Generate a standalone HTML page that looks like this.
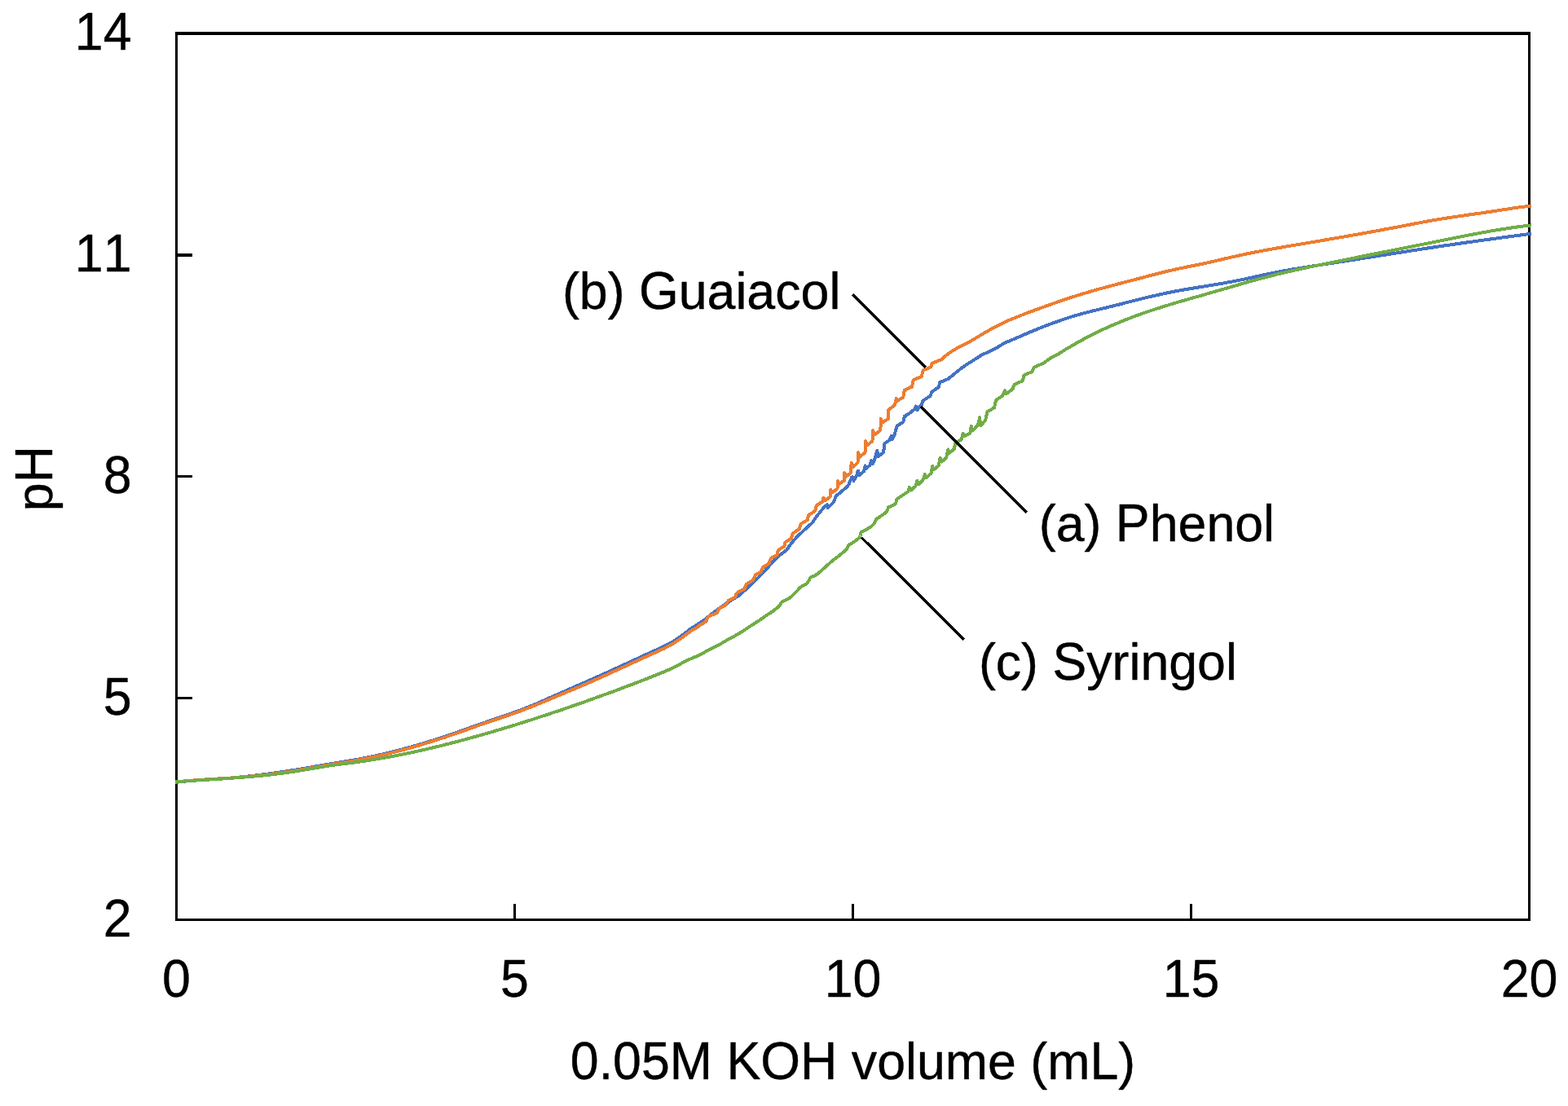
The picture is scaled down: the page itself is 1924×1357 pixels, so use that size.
<!DOCTYPE html>
<html lang="en"><head><meta charset="utf-8"><title>Titration curves</title>
<style>html,body{margin:0;padding:0;background:#fff;}body{width:1924px;height:1357px;overflow:hidden;}svg{display:block;}text{font-family:"Liberation Sans", Arial, Helvetica, sans-serif;font-size:62.7px;fill:#000;stroke:#000;stroke-width:0.4px;stroke-linejoin:round;font-kerning:none;white-space:pre;}</style></head><body>
<svg width="1924" height="1357" viewBox="0 0 1924 1357">
<rect x="0" y="0" width="1924" height="1357" fill="#fff"/>
<g fill="#000" shape-rendering="crispEdges">
<rect x="215" y="39" width="1663" height="4"/>
<rect x="215" y="1127" width="1663" height="3"/>
<rect x="215" y="39" width="3" height="1091"/>
<rect x="1875" y="39" width="3" height="1091"/>
<rect x="630" y="1109" width="3" height="19"/>
<rect x="1045" y="1109" width="3" height="19"/>
<rect x="1460" y="1109" width="3" height="19"/>
<rect x="217" y="311" width="19" height="4"/>
<rect x="217" y="583" width="19" height="3"/>
<rect x="217" y="855" width="19" height="3"/>
</g>
<polyline points="217.0,959.7 222.0,959.1 227.0,958.6 232.0,958.2 236.9,957.7 241.9,957.3 246.9,957.0 251.9,956.6 256.9,956.3 261.9,955.9 266.8,955.6 271.8,955.3 276.8,954.9 281.8,954.6 286.8,954.2 291.8,953.7 296.7,953.3 301.7,952.8 306.7,952.3 311.7,951.7 316.7,951.1 321.7,950.5 326.6,949.9 331.6,949.2 336.6,948.5 341.6,947.8 346.6,947.0 351.6,946.3 356.6,945.5 361.5,944.7 366.5,943.9 371.5,943.1 376.5,942.2 381.5,941.4 386.5,940.5 391.4,939.6 396.4,938.8 401.4,937.9 406.4,937.1 411.4,936.3 416.4,935.5 421.3,934.7 426.3,933.9 431.3,933.0 436.3,932.2 441.3,931.2 446.3,930.3 451.2,929.3 456.2,928.3 461.2,927.2 466.2,926.1 471.2,925.0 476.2,923.8 481.2,922.6 486.1,921.3 491.1,920.0 496.1,918.7 501.1,917.3 506.1,916.0 511.1,914.5 516.0,913.1 521.0,911.6 526.0,910.0 531.0,908.5 536.0,906.9 541.0,905.3 545.9,903.6 550.9,902.0 555.9,900.3 560.9,898.5 565.9,896.8 570.9,895.0 575.8,893.2 580.8,891.5 585.8,889.7 590.8,887.9 595.8,886.2 600.8,884.4 605.8,882.7 610.7,881.0 615.7,879.4 620.7,877.7 625.7,875.9 630.7,874.2 635.7,872.4 640.6,870.6 645.6,868.6 650.6,866.6 655.6,864.5 660.6,862.4 665.6,860.2 670.5,858.0 675.5,855.8 680.5,853.6 685.5,851.4 690.5,849.2 695.5,847.0 700.4,844.8 705.4,842.5 710.4,840.3 715.4,838.2 720.4,836.0 725.4,833.8 730.4,831.6 735.3,829.4 740.3,827.2 745.3,824.9 750.3,822.6 755.3,820.3 760.3,818.0 765.2,815.8 770.2,813.5 775.2,811.2 780.2,808.9 785.2,806.6 790.2,804.3 795.1,802.0 800.1,799.8 805.1,797.5 810.1,795.3 815.1,792.9 820.1,790.3 825.0,787.6 830.0,784.5 835.0,781.1 840.0,777.3 848.3,770.8 856.7,765.8 865.0,760.0 873.3,753.3 881.6,747.1 890.0,741.6 898.3,735.8 906.6,730.8 915.0,723.3 923.3,715.0 926.7,712.4 938.3,700.8 947.5,690.0 956.6,681.2 965.0,675.0 971.6,665.8 978.3,658.3 990.8,646.6 996.6,641.6 1001.6,634.1 1011.6,621.7 1015.0,619.3 1015.8,623.3 1022.4,616.7 1026.6,607.5 1027.5,607.4 1033.3,602.4 1039.1,597.5 1041.6,594.1 1045.0,585.8 1045.8,585.1 1047.5,590.0 1050.8,584.1 1052.9,577.6 1054.1,583.3 1060.0,578.3 1061.6,571.4 1062.9,575.0 1067.5,570.8 1069.1,565.1 1070.8,569.1 1073.3,563.3 1076.2,552.6 1077.9,560.0 1084.1,555.0 1085.4,544.1 1091.6,540.0 1093.7,534.7 1095.0,539.1 1097.5,533.3 1100.8,522.5 1108.3,517.9 1109.9,510.8 1116.6,506.7 1122.5,501.6 1123.9,498.5 1125.4,503.3 1127.5,500.0 1130.8,496.6 1132.5,491.6 1141.6,485.8 1143.1,481.2 1151.6,475.0 1153.3,469.1 1163.3,465.0 1168.4,460.9 1173.5,456.7 1178.6,452.6 1183.8,448.9 1188.9,445.4 1194.0,442.4 1199.1,439.1 1204.2,435.7 1209.3,433.4 1214.4,431.1 1219.5,428.6 1224.7,425.7 1229.8,422.6 1234.9,420.0 1240.0,417.6 1245.0,415.7 1250.0,413.5 1255.0,411.3 1260.1,409.1 1265.1,407.0 1270.1,405.0 1275.1,402.9 1280.1,400.9 1285.1,399.0 1290.2,397.1 1295.2,395.3 1300.2,393.5 1305.2,391.8 1310.2,390.1 1315.2,388.5 1320.3,387.0 1325.3,385.6 1330.3,384.2 1335.3,382.9 1340.3,381.6 1345.3,380.4 1350.3,379.2 1355.4,378.0 1360.4,376.7 1365.4,375.5 1370.4,374.2 1375.4,373.0 1380.4,371.7 1385.5,370.4 1390.5,369.1 1395.5,367.9 1400.5,366.6 1405.5,365.4 1410.5,364.2 1415.6,363.0 1420.6,361.9 1425.6,360.8 1430.6,359.7 1435.6,358.7 1440.6,357.7 1445.6,356.7 1450.7,355.8 1455.7,355.0 1460.7,354.1 1465.7,353.3 1470.7,352.5 1475.7,351.7 1480.8,350.9 1485.8,350.1 1490.8,349.2 1495.8,348.4 1500.8,347.5 1505.8,346.6 1510.9,345.7 1515.9,344.7 1520.9,343.7 1525.9,342.7 1530.9,341.6 1535.9,340.5 1540.9,339.4 1546.0,338.3 1551.0,337.2 1556.0,336.2 1561.0,335.1 1566.0,334.1 1571.0,333.2 1576.1,332.2 1581.1,331.3 1586.1,330.4 1591.1,329.6 1596.1,328.8 1601.1,327.9 1606.1,327.2 1611.2,326.4 1616.2,325.6 1621.2,324.8 1626.2,324.1 1631.2,323.3 1636.2,322.6 1641.3,321.8 1646.3,321.0 1651.3,320.2 1656.3,319.5 1661.3,318.7 1666.3,317.9 1671.4,317.1 1676.4,316.3 1681.4,315.5 1686.4,314.7 1691.4,313.9 1696.4,313.2 1701.4,312.4 1706.5,311.6 1711.5,310.8 1716.5,310.0 1721.5,309.2 1726.5,308.4 1731.5,307.6 1736.6,306.8 1741.6,306.1 1746.6,305.3 1751.6,304.5 1756.6,303.8 1761.6,303.0 1766.7,302.3 1771.7,301.5 1776.7,300.8 1781.7,300.1 1786.7,299.3 1791.7,298.6 1796.7,297.9 1801.8,297.2 1806.8,296.5 1811.8,295.8 1816.8,295.1 1821.8,294.4 1826.8,293.7 1831.9,293.1 1836.9,292.4 1841.9,291.7 1846.9,291.0 1851.9,290.3 1856.9,289.7 1862.0,289.0 1867.0,288.3 1872.0,287.6 1877.0,286.9" fill="none" stroke="#4472C4" stroke-width="4.0" stroke-linejoin="round" stroke-linecap="square" shape-rendering="crispEdges"/>
<polyline points="217.0,959.4 222.0,958.9 227.0,958.4 232.0,957.9 236.9,957.5 241.9,957.1 246.9,956.8 251.9,956.4 256.9,956.1 261.9,955.8 266.8,955.5 271.8,955.2 276.8,954.9 281.8,954.6 286.8,954.2 291.8,953.8 296.7,953.4 301.7,953.0 306.7,952.5 311.7,952.1 316.7,951.5 321.7,951.0 326.6,950.4 331.6,949.9 336.6,949.2 341.6,948.6 346.6,947.9 351.6,947.2 356.6,946.4 361.5,945.6 366.5,944.8 371.5,944.0 376.5,943.1 381.5,942.3 386.5,941.4 391.4,940.5 396.4,939.7 401.4,938.8 406.4,938.0 411.4,937.2 416.4,936.4 421.3,935.6 426.3,934.8 431.3,933.9 436.3,933.1 441.3,932.1 446.3,931.2 451.2,930.2 456.2,929.2 461.2,928.1 466.2,927.0 471.2,925.9 476.2,924.7 481.2,923.5 486.1,922.2 491.1,920.9 496.1,919.6 501.1,918.2 506.1,916.9 511.1,915.4 516.0,914.0 521.0,912.5 526.0,910.9 531.0,909.4 536.0,907.8 541.0,906.2 545.9,904.6 550.9,902.9 555.9,901.2 560.9,899.5 565.9,897.7 570.9,896.0 575.8,894.2 580.8,892.4 585.8,890.6 590.8,888.9 595.8,887.1 600.8,885.4 605.8,883.7 610.7,882.0 615.7,880.4 620.7,878.7 625.7,877.0 630.7,875.2 635.7,873.5 640.6,871.6 645.6,869.7 650.6,867.8 655.6,865.8 660.6,863.7 665.6,861.7 670.5,859.6 675.5,857.5 680.5,855.4 685.5,853.3 690.5,851.2 695.5,849.1 700.4,847.1 705.4,845.0 710.4,842.9 715.4,840.7 720.4,838.6 725.4,836.4 730.4,834.2 735.3,832.0 740.3,829.8 745.3,827.5 750.3,825.2 755.3,822.9 760.3,820.6 765.2,818.4 770.2,816.1 775.2,813.8 780.2,811.5 785.2,809.2 790.2,806.9 795.1,804.6 800.1,802.4 805.1,800.1 810.1,797.9 815.1,795.5 820.1,792.9 825.0,790.2 830.0,787.1 835.0,783.7 840.0,779.9 848.3,773.7 855.0,770.0 859.2,766.6 866.7,762.5 867.9,758.3 869.6,756.2 880.0,752.1 881.2,748.3 883.3,746.2 890.8,742.5 892.1,739.1 894.1,736.6 902.1,732.9 903.7,728.3 905.8,726.2 913.3,722.9 915.0,717.9 916.6,716.2 924.1,711.7 926.0,707.4 926.8,705.4 933.5,702.0 935.6,697.5 936.4,695.8 943.5,691.6 945.2,686.6 946.0,685.0 953.5,680.8 954.7,675.8 955.6,674.5 962.2,670.4 963.5,665.8 964.3,664.6 971.0,660.8 972.2,655.8 973.5,654.1 981.0,648.7 982.2,644.1 983.1,642.5 991.0,637.9 991.8,632.9 992.6,631.7 1000.1,627.1 1001.4,621.7 1002.2,620.0 1009.3,615.4 1010.4,610.9 1012.6,613.9 1018.8,609.4 1019.2,600.9 1021.4,604.1 1027.5,599.6 1027.9,590.1 1030.0,593.6 1035.8,589.6 1036.2,580.1 1038.3,584.7 1044.2,579.9 1044.6,568.0 1046.7,572.8 1052.5,567.7 1052.9,555.3 1055.1,560.6 1061.6,555.0 1062.0,541.3 1064.2,546.3 1070.5,541.0 1070.9,528.1 1073.1,533.5 1080.4,527.8 1080.8,513.9 1083.0,518.2 1090.0,513.7 1090.4,502.6 1097.9,497.0 1099.8,488.7 1101.2,491.6 1108.3,487.5 1109.8,478.7 1119.1,474.5 1120.6,466.2 1130.8,462.1 1132.6,454.6 1142.1,450.4 1143.7,445.8 1155.0,441.2 1160.0,436.8 1165.0,433.0 1170.0,429.8 1175.0,426.9 1180.0,424.2 1185.0,421.7 1190.0,419.2 1195.0,416.3 1200.0,413.2 1205.0,410.2 1210.0,407.3 1215.0,404.5 1220.0,401.8 1225.0,399.2 1230.0,396.7 1235.0,394.3 1240.0,392.1 1245.0,390.1 1250.0,388.1 1255.0,386.1 1260.1,384.1 1265.1,382.3 1270.1,380.4 1275.1,378.6 1280.1,376.8 1285.1,375.0 1290.2,373.2 1295.2,371.4 1300.2,369.7 1305.2,368.0 1310.2,366.3 1315.2,364.7 1320.3,363.1 1325.3,361.5 1330.3,360.0 1335.3,358.5 1340.3,357.0 1345.3,355.6 1350.3,354.2 1355.4,352.8 1360.4,351.5 1365.4,350.2 1370.4,348.8 1375.4,347.5 1380.4,346.2 1385.5,344.9 1390.5,343.6 1395.5,342.3 1400.5,341.0 1405.5,339.7 1410.5,338.3 1415.6,337.0 1420.6,335.7 1425.6,334.5 1430.6,333.2 1435.6,332.0 1440.6,330.9 1445.6,329.8 1450.7,328.8 1455.7,327.7 1460.7,326.7 1465.7,325.7 1470.7,324.7 1475.7,323.7 1480.8,322.6 1485.8,321.5 1490.8,320.3 1495.8,319.1 1500.8,317.9 1505.8,316.8 1510.9,315.6 1515.9,314.5 1520.9,313.4 1525.9,312.3 1530.9,311.2 1535.9,310.2 1540.9,309.2 1546.0,308.3 1551.0,307.3 1556.0,306.4 1561.0,305.5 1566.0,304.6 1571.0,303.8 1576.1,302.9 1581.1,302.0 1586.1,301.2 1591.1,300.3 1596.1,299.5 1601.1,298.7 1606.1,297.8 1611.2,297.0 1616.2,296.1 1621.2,295.3 1626.2,294.4 1631.2,293.5 1636.2,292.7 1641.3,291.8 1646.3,290.9 1651.3,290.1 1656.3,289.2 1661.3,288.3 1666.3,287.4 1671.4,286.5 1676.4,285.6 1681.4,284.7 1686.4,283.8 1691.4,282.9 1696.4,281.9 1701.4,281.0 1706.5,280.1 1711.5,279.1 1716.5,278.2 1721.5,277.2 1726.5,276.2 1731.5,275.3 1736.6,274.3 1741.6,273.4 1746.6,272.4 1751.6,271.5 1756.6,270.6 1761.6,269.8 1766.7,268.9 1771.7,268.1 1776.7,267.3 1781.7,266.6 1786.7,265.8 1791.7,265.1 1796.7,264.4 1801.8,263.6 1806.8,262.9 1811.8,262.2 1816.8,261.5 1821.8,260.8 1826.8,260.0 1831.9,259.3 1836.9,258.5 1841.9,257.7 1846.9,256.9 1851.9,256.2 1856.9,255.4 1862.0,254.7 1867.0,254.0 1872.0,253.4 1877.0,252.8" fill="none" stroke="#ED7D31" stroke-width="4.0" stroke-linejoin="round" stroke-linecap="square" shape-rendering="crispEdges"/>
<polyline points="217.0,959.1 222.0,958.7 227.0,958.4 232.0,958.1 236.9,957.8 241.9,957.4 246.9,957.1 251.9,956.8 256.9,956.5 261.9,956.2 266.8,955.9 271.8,955.6 276.8,955.2 281.8,954.9 286.8,954.5 291.8,954.2 296.7,953.8 301.7,953.4 306.7,953.0 311.7,952.5 316.7,952.1 321.7,951.6 326.6,951.0 331.6,950.5 336.6,949.9 341.6,949.3 346.6,948.7 351.6,948.0 356.6,947.3 361.5,946.5 366.5,945.7 371.5,944.9 376.5,944.0 381.5,943.2 386.5,942.3 391.4,941.5 396.4,940.7 401.4,939.9 406.4,939.2 411.4,938.5 416.4,937.9 421.3,937.2 426.3,936.6 431.3,935.9 436.3,935.3 441.3,934.6 446.3,933.9 451.2,933.1 456.2,932.3 461.2,931.5 466.2,930.7 471.2,929.8 476.2,928.9 481.2,928.0 486.1,927.1 491.1,926.1 496.1,925.1 501.1,924.1 506.1,923.0 511.1,921.9 516.0,920.8 521.0,919.7 526.0,918.5 531.0,917.4 536.0,916.2 541.0,915.0 545.9,913.7 550.9,912.5 555.9,911.2 560.9,909.9 565.9,908.6 570.9,907.2 575.8,905.9 580.8,904.5 585.8,903.1 590.8,901.7 595.8,900.3 600.8,898.9 605.8,897.4 610.7,895.9 615.7,894.4 620.7,892.9 625.7,891.4 630.7,889.9 635.7,888.3 640.6,886.7 645.6,885.2 650.6,883.6 655.6,882.0 660.6,880.3 665.6,878.7 670.5,877.1 675.5,875.4 680.5,873.7 685.5,872.1 690.5,870.4 695.5,868.7 700.4,867.0 705.4,865.2 710.4,863.5 715.4,861.8 720.4,860.0 725.4,858.2 730.4,856.4 735.3,854.6 740.3,852.8 745.3,851.0 750.3,849.2 755.3,847.4 760.3,845.5 765.2,843.6 770.2,841.7 775.2,839.9 780.2,838.0 785.2,836.0 790.2,834.1 795.1,832.2 800.1,830.2 805.1,828.2 810.1,826.2 815.1,824.1 820.1,822.0 825.0,819.7 830.0,817.2 835.0,814.6 840.0,811.8 848.3,807.9 856.7,804.5 865.0,800.0 873.3,795.8 881.6,791.6 890.0,786.6 898.3,782.0 906.6,777.5 915.0,772.0 923.3,766.6 931.6,761.2 940.0,755.4 948.3,750.0 956.6,743.3 958.7,739.1 964.9,735.8 969.1,733.7 977.4,725.8 981.6,720.8 989.9,716.2 992.4,712.5 994.1,708.7 1000.0,706.2 1004.3,703.3 1012.6,695.8 1021.0,688.3 1029.3,682.0 1037.6,675.0 1039.7,672.5 1040.9,669.1 1047.6,665.0 1054.3,660.0 1055.5,657.5 1056.3,653.3 1062.6,650.0 1069.3,645.8 1072.6,642.5 1073.8,640.0 1074.7,637.5 1086.7,629.1 1088.7,626.6 1090.0,622.5 1098.7,618.3 1099.6,615.8 1100.4,612.5 1114.1,603.3 1115.8,598.0 1117.9,601.6 1123.3,596.6 1125.4,590.1 1127.1,594.1 1132.5,589.1 1135.0,581.8 1136.6,586.2 1142.5,580.8 1144.1,571.8 1145.8,576.2 1151.6,571.6 1153.7,561.8 1155.4,566.6 1161.2,561.7 1163.3,551.4 1165.0,555.8 1170.8,550.8 1172.4,543.3 1179.9,539.2 1181.6,531.8 1183.7,535.0 1190.4,531.6 1191.7,523.0 1193.7,528.3 1200.0,521.6 1202.1,512.2 1203.3,522.4 1209.1,515.8 1211.6,505.0 1220.0,500.4 1222.1,490.8 1230.0,485.8 1232.9,479.3 1234.6,483.3 1242.5,477.5 1244.5,472.1 1255.0,467.1 1256.2,460.8 1266.6,455.8 1268.7,450.8 1281.6,445.0 1286.6,440.9 1291.7,438.0 1296.8,435.6 1301.8,432.4 1306.8,429.1 1311.9,426.3 1317.0,423.3 1322.0,420.3 1327.0,417.6 1332.0,414.9 1337.0,412.3 1342.0,409.7 1347.0,407.3 1352.0,404.9 1357.0,402.6 1362.0,400.3 1367.0,398.2 1372.0,396.1 1377.0,394.0 1382.0,392.0 1387.0,390.1 1391.9,388.2 1396.9,386.4 1401.9,384.6 1406.9,382.9 1411.9,381.2 1416.9,379.6 1421.9,377.9 1426.9,376.4 1431.9,374.8 1436.9,373.3 1441.9,371.8 1446.9,370.3 1451.9,368.9 1456.9,367.5 1461.9,366.0 1466.9,364.6 1471.9,363.2 1476.9,361.8 1481.9,360.3 1486.9,358.9 1491.9,357.4 1496.9,356.0 1501.9,354.5 1506.9,353.1 1511.9,351.6 1516.9,350.2 1521.9,348.7 1526.9,347.3 1531.8,345.9 1536.8,344.5 1541.8,343.1 1546.8,341.8 1551.8,340.5 1556.8,339.2 1561.8,337.9 1566.8,336.6 1571.8,335.4 1576.8,334.3 1581.8,333.1 1586.8,332.0 1591.8,330.9 1596.8,329.8 1601.8,328.7 1606.8,327.6 1611.8,326.6 1616.8,325.6 1621.8,324.5 1626.8,323.5 1631.8,322.5 1636.8,321.5 1641.8,320.5 1646.8,319.5 1651.8,318.5 1656.8,317.5 1661.8,316.5 1666.7,315.5 1671.7,314.5 1676.7,313.5 1681.7,312.5 1686.7,311.5 1691.7,310.5 1696.7,309.5 1701.7,308.6 1706.7,307.6 1711.7,306.6 1716.7,305.6 1721.7,304.6 1726.7,303.6 1731.7,302.6 1736.7,301.6 1741.7,300.6 1746.7,299.6 1751.7,298.6 1756.7,297.6 1761.7,296.6 1766.7,295.6 1771.7,294.6 1776.7,293.6 1781.7,292.6 1786.7,291.6 1791.7,290.6 1796.7,289.6 1801.7,288.6 1806.6,287.7 1811.6,286.7 1816.6,285.8 1821.6,284.9 1826.6,284.0 1831.6,283.1 1836.6,282.3 1841.6,281.5 1846.6,280.7 1851.6,279.9 1856.6,279.2 1861.6,278.5 1866.6,277.8 1871.6,277.2 1877.0,276.6" fill="none" stroke="#70AD47" stroke-width="4.0" stroke-linejoin="round" stroke-linecap="square" shape-rendering="crispEdges"/>
<line x1="1046.2" y1="361.6" x2="1135.9" y2="450.7" stroke="#000" stroke-width="3.5" shape-rendering="crispEdges"/>
<line x1="1130.1" y1="498.8" x2="1259.7" y2="628.5" stroke="#000" stroke-width="3.5" shape-rendering="crispEdges"/>
<line x1="1056.9" y1="659.4" x2="1182.8" y2="784.7" stroke="#000" stroke-width="3.5" shape-rendering="crispEdges"/>
<g transform="translate(216.50,1223.30)"><text x="-17.44" y="0" transform="scale(1,1.03)">0</text></g>
<g transform="translate(631.50,1223.30)"><text x="-17.44" y="0" transform="scale(1,1.03)">5</text></g>
<g transform="translate(1046.50,1223.30)"><text x="-34.87" y="0" transform="scale(1,1.03)">10</text></g>
<g transform="translate(1461.50,1223.30)"><text x="-34.87" y="0" transform="scale(1,1.03)">15</text></g>
<g transform="translate(1876.50,1223.30)"><text x="-34.87" y="0" transform="scale(1,1.03)">20</text></g>
<g transform="translate(161.50,1148.90)"><text x="-34.87" y="0" transform="scale(1,1.03)">2</text></g>
<g transform="translate(161.50,876.90)"><text x="-34.87" y="0" transform="scale(1,1.03)">5</text></g>
<g transform="translate(161.50,604.90)"><text x="-34.87" y="0" transform="scale(1,1.03)">8</text></g>
<g transform="translate(161.50,332.90)"><text x="-69.74" y="0" transform="scale(1,1.03)">11</text></g>
<g transform="translate(161.50,60.90)"><text x="-69.74" y="0" transform="scale(1,1.03)">14</text></g>
<g transform="translate(1046.50,1324.10)"><text x="-346.69" y="0" transform="scale(1,1.03)">0.05M KOH </text><text x="-1.72" y="0">volume (m</text><text x="290.94" y="0" transform="scale(1,1.03)">L</text><text x="325.81" y="0">)</text></g>
<g transform="translate(64.10,627.20) rotate(-90)"><text x="0.00" y="0">p</text><text x="34.87" y="0" transform="scale(1,1.03)">H</text></g>
<g transform="translate(689.90,379.10)"><text x="0.00" y="0">(b) </text><text x="94.05" y="0" transform="scale(1,1.03)">G</text><text x="142.82" y="0">uaiacol</text></g>
<g transform="translate(1274.80,664.10)"><text x="0.00" y="0">(a) </text><text x="94.05" y="0" transform="scale(1,1.03)">P</text><text x="135.87" y="0">henol</text></g>
<g transform="translate(1200.90,834.10)"><text x="0.00" y="0">(c) </text><text x="90.53" y="0" transform="scale(1,1.03)">S</text><text x="132.35" y="0">yringol</text></g>
</svg></body></html>
